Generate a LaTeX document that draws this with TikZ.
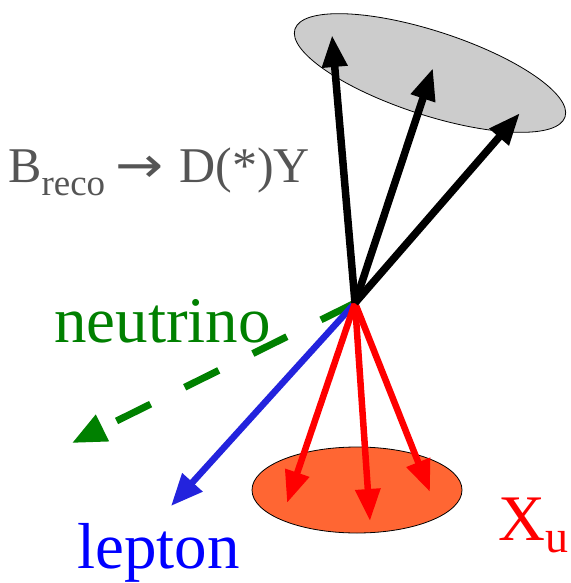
\documentclass[tikz,border=0pt]{standalone}
\usepackage{fontspec}
\setmainfont{Liberation Serif}
\newfontfamily\arrowfont{DejaVu Sans}
\usetikzlibrary{arrows.meta}
\definecolor{txtgray}{HTML}{555555}
\definecolor{nugreen}{HTML}{008000}
\definecolor{lepblue}{HTML}{2323DD}
\definecolor{xorange}{HTML}{FF6633}
\definecolor{ellgray}{HTML}{CCCCCC}
\tikzset{
  track/.style={line width=6.5pt, -{Triangle[length=32pt,width=24pt]}},
  blob/.style={draw=black, line width=0.8pt},
  lbl/.style={anchor=base west, inner sep=0pt},
}
\begin{document}
\begin{tikzpicture}[x=1pt,y=-1pt]
\useasboundingbox (0,0) rectangle (570,583);
% blobs
\draw[blob, fill=ellgray] (430,73) ellipse[x radius=142, y radius=42, rotate=-18];
\draw[blob, fill=xorange] (357,490) ellipse[x radius=105, y radius=43];
\coordinate (v) at (355,303);
\coordinate (b1) at (332,35);
\coordinate (b2) at (433,68);
\coordinate (b3) at (520,113);
\coordinate (r1) at (287,503);
\coordinate (r2) at (370,521);
\coordinate (r3) at (430,492);
\coordinate (l) at (171,506);
\coordinate (n) at (72,443);
% neutrino
\draw[track, nugreen, line width=7pt, dash pattern=on 38pt off 38pt, -{Triangle[length=34pt,width=28pt]}] (v) -- (n);
% lepton
\draw[track, lepblue, -{Triangle[length=32pt,width=26pt]}] (v) -- (l);
% hadrons
\draw[track, red] (v) -- (r1);
\draw[track, red] (v) -- (r2);
\draw[track, red] (v) -- (r3);
% reco B
\draw[track, black, line width=7.5pt] (v) -- (b1);
\draw[track, black, line width=7.5pt] (v) -- (b2);
\draw[track, black, line width=7.5pt] (v) -- (b3);
% labels
\node[lbl, text=txtgray] (breco) at (8,182) {\fontsize{50}{50}\selectfont B\raisebox{-13pt}{\fontsize{37}{37}\selectfont reco}\hspace{10pt}{\arrowfont\scalebox{1.15}[1]{→}}\hspace{16pt}D(*)Y};
\node[lbl, text=nugreen] (nu) at (54,342) {\fontsize{65}{65}\selectfont neutrino};
\node[lbl, text=blue] (lep) at (77,568) {\fontsize{65}{65}\selectfont lepton};
\node[lbl, text=red] (xu) at (498,540) {\fontsize{65}{65}\selectfont X\raisebox{-12pt}{\fontsize{46}{46}\selectfont u}};
\end{tikzpicture}
\end{document}
